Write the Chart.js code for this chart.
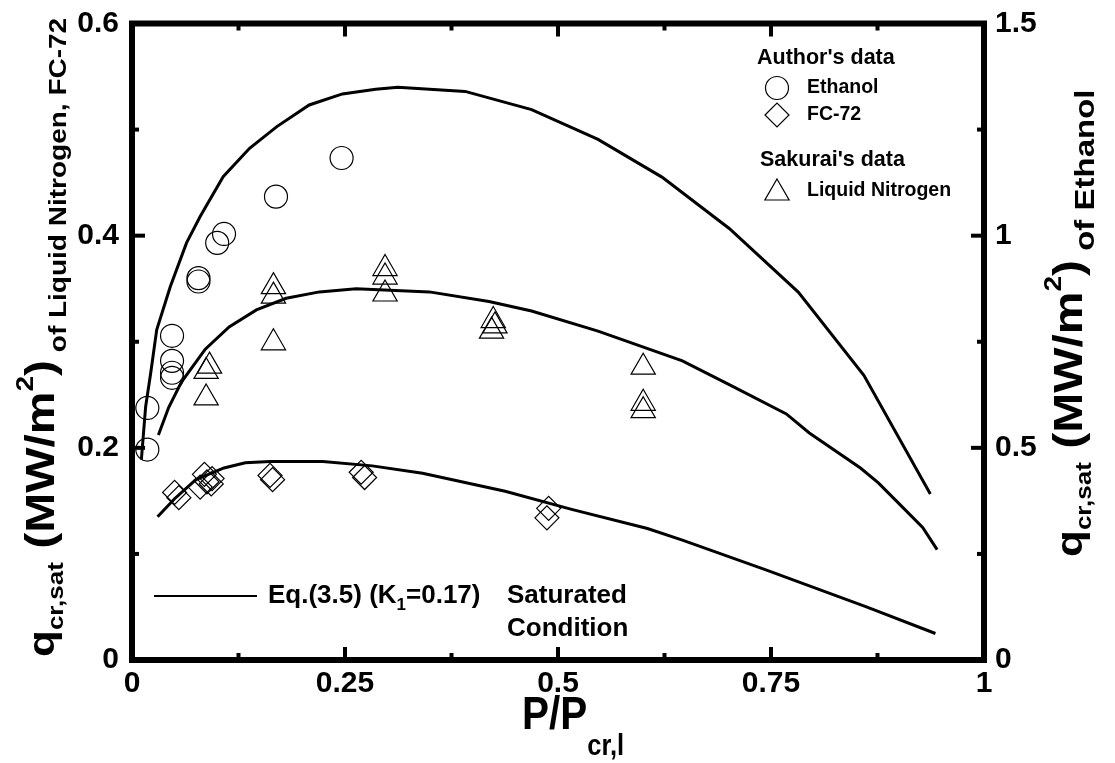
<!DOCTYPE html>
<html>
<head>
<meta charset="utf-8">
<script src="https://cdn.jsdelivr.net/npm/chart.js@4.4.1/dist/chart.umd.min.js"></script>
<style>
  html, body { margin: 0; padding: 0; background: #fff; }
  #wrap { width: 1115px; height: 763px; }
</style>
</head>
<body>
<div id="wrap"><canvas id="chfChart" width="1115" height="763"></canvas></div>
<script>
// Critical heat flux vs reduced pressure, saturated condition

// Author's data: ethanol (right axis, MW/m2)
const ethanolP = [0.018, 0.018, 0.047, 0.047, 0.047, 0.047, 0.078, 0.078, 0.100, 0.108, 0.169, 0.246];
const ethanolQ = [0.496, 0.594, 0.764, 0.705, 0.677, 0.665, 0.900, 0.892, 0.983, 1.004, 1.092, 1.183];

// Author's data: FC-72 (left axis)
const fc72P = [0.050, 0.055, 0.085, 0.088, 0.093, 0.080, 0.094, 0.162, 0.165, 0.269, 0.273, 0.489, 0.487];
const fc72Q = [0.158, 0.153, 0.175, 0.168, 0.166, 0.163, 0.171, 0.174, 0.170, 0.177, 0.172, 0.143, 0.134];

// Sakurai's data: liquid nitrogen (left axis)
const ln2P = [0.166, 0.166, 0.166, 0.091, 0.087, 0.087, 0.297, 0.297, 0.297, 0.424, 0.426, 0.422, 0.600, 0.600, 0.600];
const ln2Q = [0.352, 0.343, 0.299, 0.277, 0.272, 0.247, 0.369, 0.361, 0.345, 0.320, 0.315, 0.310, 0.276, 0.242, 0.235];

// Eq.(3.5) with K1 = 0.17
const ethCurveP = [0.011, 0.016, 0.022, 0.029, 0.045, 0.064, 0.080, 0.107, 0.138, 0.170, 0.208, 0.247, 0.286, 0.312, 0.391, 0.469, 0.547, 0.622, 0.701, 0.782, 0.859, 0.937];
const ethCurveQ = [0.472, 0.597, 0.677, 0.778, 0.880, 0.983, 1.045, 1.139, 1.206, 1.257, 1.308, 1.334, 1.345, 1.350, 1.340, 1.297, 1.227, 1.138, 1.017, 0.867, 0.671, 0.391];
const ln2CurveP = [0.031, 0.043, 0.058, 0.086, 0.114, 0.146, 0.181, 0.220, 0.263, 0.349, 0.419, 0.469, 0.547, 0.646, 0.705, 0.768, 0.795, 0.855, 0.876, 0.902, 0.928, 0.945];
const ln2CurveQ = [0.212, 0.238, 0.262, 0.293, 0.314, 0.330, 0.341, 0.347, 0.350, 0.347, 0.338, 0.329, 0.310, 0.282, 0.258, 0.232, 0.214, 0.181, 0.167, 0.146, 0.125, 0.104];
const fcCurveP = [0.030, 0.050, 0.075, 0.108, 0.133, 0.162, 0.224, 0.282, 0.341, 0.438, 0.516, 0.605, 0.646, 0.744, 0.862, 0.943];
const fcCurveQ = [0.135, 0.152, 0.170, 0.181, 0.186, 0.187, 0.187, 0.183, 0.176, 0.159, 0.142, 0.124, 0.113, 0.085, 0.050, 0.025];

// axis ticks
const xTicks = [0, 0.25, 0.5, 0.75, 1];
const xTickLabels = ['0', '0.25', '0.5', '0.75', '1'];
const xMinor = [0.125, 0.375, 0.625, 0.875];
const yTicks = [0, 0.2, 0.4, 0.6];
const yTickLabels = ['0', '0.2', '0.4', '0.6'];
const yMinor = [0.1, 0.3, 0.5];
const y2Ticks = [0, 0.5, 1, 1.5];
const y2TickLabels = ['0', '0.5', '1', '1.5'];
const y2Minor = [0.25, 0.75, 1.25];

const FONT = "'Liberation Sans', Arial, sans-serif";
const NARROW = "'Liberation Sans Narrow', 'Arial Narrow', " + FONT;
Chart.defaults.font.family = FONT;
Chart.defaults.color = '#000';

const pts = (xs, ys) => xs.map((x, i) => ({ x: x, y: ys[i] }));

function markerSet(label, xs, ys, style, radius, axis) {
    return {
        label: label,
        data: pts(xs, ys),
        yAxisID: axis,
        showLine: false,
        pointStyle: style,
        pointRadius: radius,
        pointBorderWidth: 1.2,
        pointBorderColor: '#000',
        pointBackgroundColor: 'rgba(0,0,0,0)'
    };
}

function curveSet(label, xs, ys, axis) {
    return {
        label: label,
        data: pts(xs, ys),
        yAxisID: axis,
        showLine: true,
        borderColor: '#000',
        borderWidth: 3,
        pointRadius: 0,
        tension: 0
    };
}

// linear axis with fixed tick values and labels
function axis(position, min, max, values, labels, font, padding, fit) {
    return {
        type: 'linear', position: position, min: min, max: max,
        grid: { display: false, drawTicks: false },
        border: { display: false },
        afterBuildTicks: s => { s.ticks = values.map(v => ({ value: v })); },
        afterFit: fit,
        ticks: {
            callback: v => labels[values.indexOf(v)],
            autoSkip: false,
            maxRotation: 0,
            padding: padding,
            font: font,
            color: '#000'
        }
    };
}

// draw a run of text pieces with different sizes / baseline shifts
function drawRuns(ctx, runs, x, y) {
    let cx = x;
    runs.forEach(r => {
        ctx.font = 'bold ' + r.size + 'px ' + FONT;
        ctx.fillText(r.text, cx, y + (r.dy || 0));
        cx += ctx.measureText(r.text).width;
    });
}

// vertical title, squeezed across its baseline
function drawRotated(ctx, runs, x, y, squeeze) {
    ctx.save();
    ctx.translate(x, y);
    ctx.rotate(-Math.PI / 2);
    ctx.scale(1, squeeze);
    drawRuns(ctx, runs, 0, 0);
    ctx.restore();
}

const framePlugin = {
    id: 'frame',
    afterDraw(chart) {
        const { ctx, chartArea: a, scales } = chart;
        ctx.save();
        ctx.strokeStyle = '#000';
        ctx.fillStyle = '#000';

        // inward ticks on all four sides
        ctx.lineWidth = 4;
        const hTick = (vals, len) => vals.forEach(v => {
            const px = scales.x.getPixelForValue(v);
            ctx.beginPath();
            ctx.moveTo(px, a.bottom); ctx.lineTo(px, a.bottom - len);
            ctx.moveTo(px, a.top); ctx.lineTo(px, a.top + len);
            ctx.stroke();
        });
        const vTick = (scale, vals, len, side) => vals.forEach(v => {
            const py = scale.getPixelForValue(v);
            const x0 = side === 'left' ? a.left : a.right;
            const dir = side === 'left' ? 1 : -1;
            ctx.beginPath();
            ctx.moveTo(x0, py); ctx.lineTo(x0 + dir * len, py);
            ctx.stroke();
        });
        hTick(xTicks, 13); hTick(xMinor, 7);
        vTick(scales.y, yTicks, 13, 'left'); vTick(scales.y, yMinor, 7, 'left');
        vTick(scales.y2, y2Ticks, 13, 'right'); vTick(scales.y2, y2Minor, 7, 'right');

        ctx.lineWidth = 6;
        ctx.strokeRect(a.left, a.top, a.right - a.left, a.bottom - a.top);

        // axis titles
        ctx.textBaseline = 'alphabetic';
        ctx.textAlign = 'left';
        ctx.save();
        ctx.translate(522, 729);
        ctx.scale(0.88, 1);
        drawRuns(ctx, [
            { text: 'P/P', size: 46 },
            { text: 'cr,l', size: 29, dy: 26 }
        ], 0, 0);
        ctx.restore();
        drawRotated(ctx, [
            { text: 'q', size: 44 },
            { text: 'cr,sat', size: 26, dy: 10 },
            { text: ' (MW/m', size: 48 },
            { text: '2', size: 28, dy: -25 },
            { text: ')', size: 48 },
            { text: ' of Liquid Nitrogen, FC-72', size: 28, dy: 14 }
        ], 54, 657, 0.85);
        drawRotated(ctx, [
            { text: 'q', size: 44 },
            { text: 'cr,sat', size: 26, dy: 10 },
            { text: ' (MW/m', size: 48 },
            { text: '2', size: 28, dy: -25 },
            { text: ')', size: 48 },
            { text: ' of Ethanol', size: 33, dy: 14 }
        ], 1082, 557, 0.85);

        // top-right legend
        ctx.textBaseline = 'middle';
        ctx.font = 'bold 21.5px ' + FONT;
        ctx.fillText("Author's data", 757, 58);
        ctx.fillText("Sakurai's data", 760, 160);
        ctx.font = 'bold 19.5px ' + FONT;
        ctx.fillText('Ethanol', 807, 88);
        ctx.fillText('FC-72', 807, 115);
        ctx.fillText('Liquid Nitrogen', 807, 191);
        ctx.lineWidth = 1.2;
        ctx.fillStyle = 'rgba(0,0,0,0)';
        const h = Chart.helpers;
        h.drawPoint(ctx, { pointStyle: 'circle', radius: 11.5, rotation: 0, borderWidth: 1.2 }, 777, 88);
        h.drawPoint(ctx, { pointStyle: 'rectRot', radius: 12, rotation: 0, borderWidth: 1.2 }, 777, 115);
        h.drawPoint(ctx, { pointStyle: 'triangle', radius: 14, rotation: 0, borderWidth: 1.2 }, 777, 193);

        // bottom-left legend
        ctx.fillStyle = '#000';
        ctx.lineWidth = 2;
        ctx.beginPath();
        ctx.moveTo(154, 596); ctx.lineTo(257, 596);
        ctx.stroke();
        drawRuns(ctx, [
            { text: 'Eq.(3.5) (K', size: 26 },
            { text: '1', size: 17, dy: 9 },
            { text: '=0.17)', size: 26 }
        ], 268, 596);
        ctx.font = 'bold 26px ' + FONT;
        ctx.fillText('Saturated', 507, 596);
        ctx.fillText('Condition', 507, 629);
        ctx.restore();
    }
};

new Chart(document.getElementById('chfChart'), {
    type: 'scatter',
    data: {
        datasets: [
            markerSet('Ethanol', ethanolP, ethanolQ, 'circle', 11.5, 'y2'),
            markerSet('FC-72', fc72P, fc72Q, 'rectRot', 12, 'y'),
            markerSet('Liquid Nitrogen', ln2P, ln2Q, 'triangle', 14, 'y'),
            curveSet('Eq.(3.5) ethanol', ethCurveP, ethCurveQ, 'y2'),
            curveSet('Eq.(3.5) liquid nitrogen', ln2CurveP, ln2CurveQ, 'y'),
            curveSet('Eq.(3.5) FC-72', fcCurveP, fcCurveQ, 'y')
        ]
    },
    options: {
        responsive: false,
        animation: false,
        layout: { padding: { top: 23.5, left: 0, right: 0, bottom: 0 } },
        plugins: { legend: { display: false }, tooltip: { enabled: false } },
        scales: {
            x: axis('bottom', 0, 1, xTicks, xTickLabels, { family: NARROW, size: 30, weight: 'bold' }, 6,
                s => { s.height = 103; s.paddingLeft = 0; s.paddingRight = 0; }),
            y: axis('left', 0, 0.6, yTicks, yTickLabels, { size: 30, weight: 'bold' }, 13,
                s => { s.width = 132; s.paddingTop = 0; s.paddingBottom = 0; }),
            y2: axis('right', 0, 1.5, y2Ticks, y2TickLabels, { size: 30, weight: 'bold' }, 11,
                s => { s.width = 131; s.paddingTop = 0; s.paddingBottom = 0; })
        }
    },
    plugins: [framePlugin]
});
</script>
</body>
</html>
